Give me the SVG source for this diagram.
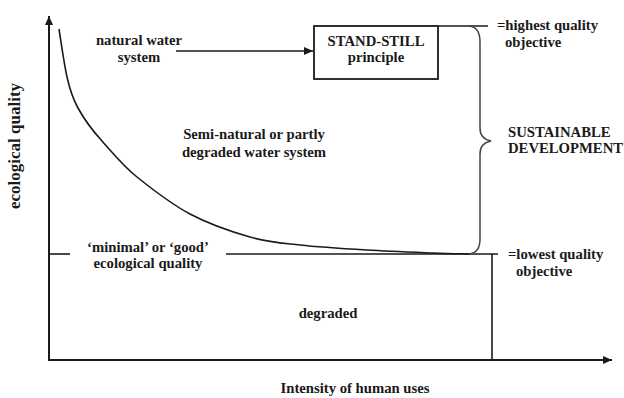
<svg xmlns="http://www.w3.org/2000/svg" width="624" height="398" viewBox="0 0 624 398">
  <style>
    text { font-family: 'Liberation Serif', 'DejaVu Serif', serif; font-weight: bold; font-size: 14.7px; fill: #1a1a1a; }
    .ax { stroke: #1a1a1a; stroke-width: 2; fill: none; }
    .ln { stroke: #1a1a1a; stroke-width: 1.6; fill: none; }
    .br { stroke: #444; stroke-width: 1.5; fill: none; }
  </style>
  <defs>
    <marker id="ah" markerWidth="10" markerHeight="8" refX="9" refY="4" orient="auto" markerUnits="userSpaceOnUse">
      <path d="M0,0 L9,4 L0,8 Z" fill="#1a1a1a"/>
    </marker>
  </defs>
  <rect width="624" height="398" fill="#fff"/>

  <g id="connectors">
    <line class="ax" x1="49" y1="361" x2="49" y2="16" marker-end="url(#ah)"/>
    <line class="ax" x1="48" y1="360" x2="612" y2="360" marker-end="url(#ah)"/>
    <line class="ln" x1="49" y1="254" x2="70" y2="254"/>
    <line class="ln" x1="226" y1="254" x2="498" y2="254"/>
    <line class="ln" x1="492" y1="254" x2="492" y2="360"/>
    <line class="ln" x1="438" y1="26" x2="488" y2="26" stroke-width="1.3"/>
    <line class="ln" x1="176" y1="51" x2="313" y2="51" marker-end="url(#ah)"/>
    <path class="ln" d="M59,29 C60.3,37 64,63.5 67,77 C70,90.5 72.5,98 78,108 C84,119 92,130 102,141 C112,152 122.3,165.2 137,177 C151.7,188.8 171.2,204 190,214 C208.8,224 231.7,231.8 250,237 C268.3,242.2 280.5,242.8 300,245 C319.5,247.2 344.8,248.7 367,250 C389.2,251.3 415.8,252.3 433,253 C450.2,253.7 463.8,253.8 470,254"/>
    <path class="br" d="M469,26 Q480,27 480,42 L480,128 Q480,139 491,141 Q480,143 480,154 L480,239 Q480,253 469,254"/>
  </g>

  <g id="y-axis-label">
    <text font-family="Liberation Serif, DejaVu Serif, serif" transform="translate(20,146) rotate(-90)" text-anchor="middle" style="font-size:17px">ecological quality</text>
  </g>
  <g id="x-axis-label">
    <text font-family="Liberation Serif, DejaVu Serif, serif" x="355" y="393" text-anchor="middle">Intensity of human uses</text>
  </g>
  <g id="natural-water">
    <text x="139" y="45" text-anchor="middle">natural water</text>
    <text x="139" y="61.5" text-anchor="middle">system</text>
  </g>
  <g id="stand-still">
    <rect x="314" y="26" width="124" height="53" fill="none" stroke="#1a1a1a" stroke-width="1.8"/>
    <text x="376" y="45.5" text-anchor="middle">STAND-STILL</text>
    <text x="376" y="62" text-anchor="middle">principle</text>
  </g>
  <g id="semi-natural">
    <text x="254" y="139" text-anchor="middle">Semi-natural or partly</text>
    <text x="254" y="156.5" text-anchor="middle">degraded water system</text>
  </g>
  <g id="minimal-good">
    <text x="148" y="251.5" text-anchor="middle">‘minimal’ or ‘good’</text>
    <text x="148" y="268" text-anchor="middle">ecological quality</text>
  </g>
  <g id="degraded">
    <text x="328" y="318" text-anchor="middle">degraded</text>
  </g>
  <g id="highest">
    <text x="497" y="30">=highest quality</text>
    <text x="505" y="46.5">objective</text>
  </g>
  <g id="sustainable">
    <text x="508" y="136.5">SUSTAINABLE</text>
    <text x="508" y="153">DEVELOPMENT</text>
  </g>
  <g id="lowest">
    <text x="508" y="259">=lowest quality</text>
    <text x="516" y="276">objective</text>
  </g>
</svg>
